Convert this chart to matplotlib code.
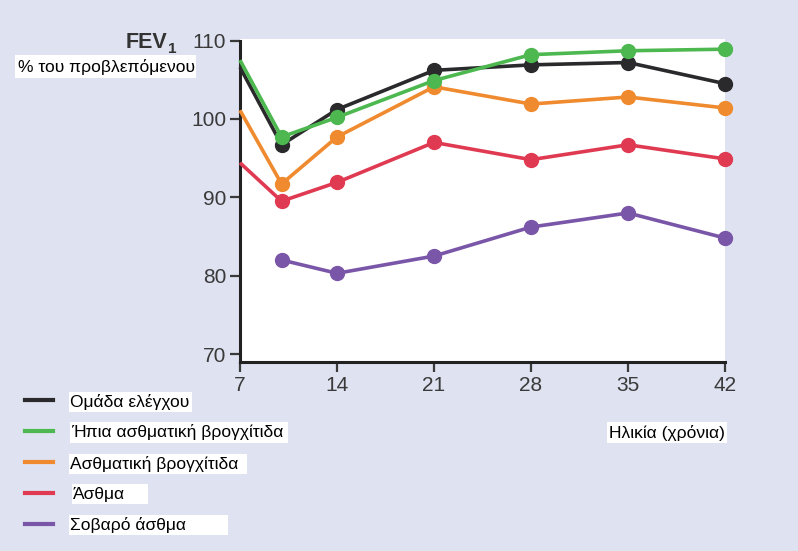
import matplotlib
matplotlib.use("Agg")
import matplotlib.pyplot as plt
from matplotlib.patches import Rectangle

plt.rcParams['font.family'] = ['Liberation Sans', 'DejaVu Sans']

ages = [7, 10, 14, 21, 28, 35, 42]
control = [106.6, 96.7, 101.2, 106.2, 106.9, 107.2, 104.5]
mild_wheeze = [107.5, 97.7, 100.2, 104.9, 108.2, 108.7, 108.9]
wheeze = [101.1, 91.7, 97.7, 104.1, 101.9, 102.8, 101.4]
asthma = [94.4, 89.5, 91.9, 97.0, 94.8, 96.7, 94.9]
severe_ages = [10, 14, 21, 28, 35, 42]
severe = [82.0, 80.3, 82.5, 86.2, 88.0, 84.8]

labels = ["Ομάδα ελέγχου", "Ήπια ασθματική βρογχίτιδα", "Ασθματική βρογχίτιδα",
          "Άσθμα", "Σοβαρό άσθμα"]
colors = ["#2a2a2c", "#4cb84f", "#f08a2e", "#e03a52", "#7a56a8"]
xticks = [7, 14, 21, 28, 35, 42]
yticks = [70, 80, 90, 100, 110]

W, H = 798, 551
bg = "#dfe2f0"
fig = plt.figure(figsize=(W / 100, H / 100), dpi=100, facecolor=bg)


def fx(x):
    return x / W


def fy(y):
    return 1 - y / H


def white_box(x0, y0, x1, y1):
    fig.add_artist(Rectangle((fx(x0), fy(y1)), fx(x1) - fx(x0), fy(y0) - fy(y1),
                             transform=fig.transFigure, facecolor='white',
                             edgecolor='none', zorder=1))


ax = fig.add_axes([fx(240), fy(362), fx(725) - fx(240), fy(39) - fy(362)])
ax.set_facecolor("white")

series = [(ages, control), (ages, mild_wheeze), (ages, wheeze), (ages, asthma),
          (severe_ages, severe)]
for i, ((xs, ys), c) in enumerate(zip(series, colors)):
    me = list(range(1, len(xs))) if xs[0] == 7 else None
    ax.plot(xs, ys, color=c, lw=2.6, marker='o', markersize=10, markevery=me,
            clip_on=False, zorder=3 + (1 if i == 1 else 0), solid_capstyle='butt')

ax.set_xlim(7, 42)
ax.set_ylim(68.98, 110.2)
ax.set_xticks(xticks)
ax.set_yticks(yticks)
ax.tick_params(direction='out', length=7, width=1.6, colors='#3a3a3a',
               labelsize=15, pad=3)
for s in ['top', 'right']:
    ax.spines[s].set_visible(False)
for s in ['left', 'bottom']:
    ax.spines[s].set_linewidth(2.2)
    ax.spines[s].set_color('#222222')
ax.spines['left'].set_bounds(68.98, 110)

# y-axis title
fig.text(fx(167), fy(48), "FEV", ha='right', va='baseline',
         fontsize=15.5, fontweight='bold', color='#333333')
fig.text(fx(168), fy(53), "1", ha='left', va='baseline',
         fontsize=11, fontweight='bold', color='#333333')
white_box(15, 55, 196, 78)
fig.text(fx(18), fy(67), "% του προβλεπόμενου", ha='left', va='center',
         fontsize=12.5, color='black', zorder=2)

# x-axis title
white_box(607, 422, 727, 443)
fig.text(fx(609), fy(433), "Ηλικία (χρόνια)", ha='left', va='center',
         fontsize=12.5, color='black', zorder=2)

# manual legend
leg_line_y = [400, 431, 462, 493, 524]
leg_boxes = [(69, 392, 192, 412), (70, 422, 288, 443), (69, 454, 247, 474),
             (72, 484, 148, 504), (69, 515, 228, 535)]
for lab, c, ly, (x0, y0, x1, y1) in zip(labels, colors, leg_line_y, leg_boxes):
    fig.add_artist(plt.Line2D([fx(25), fx(53)], [fy(ly), fy(ly)], color=c, lw=3,
                              transform=fig.transFigure))
    white_box(x0, y0, x1, y1)
    fig.text(fx(x0 + 1), fy((y0 + y1) / 2), lab, ha='left', va='center',
             fontsize=12.5, color='black', zorder=2)

fig.savefig("out.png", dpi=100, facecolor=bg)
